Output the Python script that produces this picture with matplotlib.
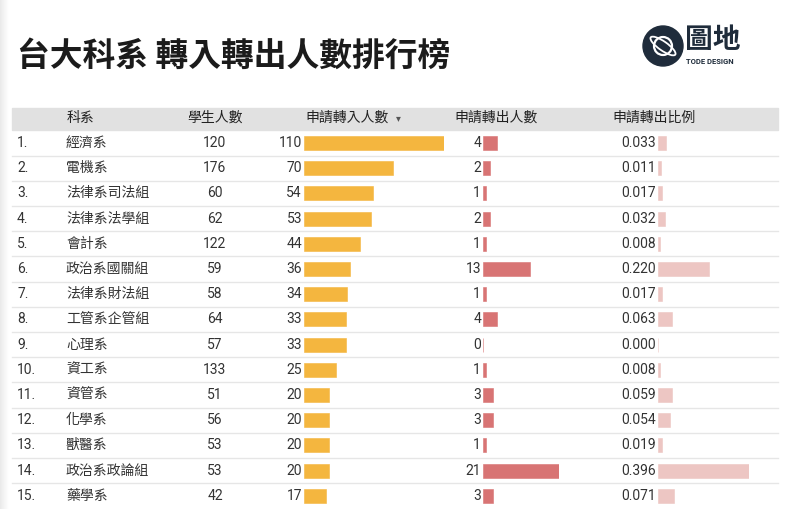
import numpy as np
import matplotlib.pyplot as plt
from matplotlib.patches import Circle, Ellipse, Rectangle

plt.rcParams['font.family'] = ['Roboto', 'Noto Sans CJK TC', 'DejaVu Sans']

# table data
departments = ['經濟系', '電機系', '法律系司法組', '法律系法學組', '會計系',
               '政治系國關組', '法律系財法組', '工管系企管組', '心理系', '資工系',
               '資管系', '化學系', '獸醫系', '政治系政論組', '藥學系']
students = [120, 176, 60, 62, 122, 59, 58, 64, 57, 133, 51, 56, 53, 53, 42]
transfer_in = [110, 70, 54, 53, 44, 36, 34, 33, 33, 25, 20, 20, 20, 20, 17]
transfer_out = [4, 2, 1, 2, 1, 13, 1, 4, 0, 1, 3, 3, 1, 21, 3]
out_ratio = [0.033, 0.011, 0.017, 0.032, 0.008, 0.220, 0.017, 0.063, 0.000,
             0.008, 0.059, 0.054, 0.019, 0.396, 0.071]
headers = ['科系', '學生人數', '申請轉入人數', '申請轉出人數', '申請轉出比例']
title = '台大科系 轉入轉出人數排行榜'

W, H = 800, 509
ROW0, PITCH = 143, 25.2          # centre of row 1 and row spacing (px)
row_top = 1 - ROW0 / PITCH
row_bottom = 1 + (H - ROW0) / PITCH
rows = np.arange(1, len(departments) + 1)

TEXT = '#333333'
ORANGE, RED, PINK = '#F4B63F', '#D87474', '#EDC6C3'

fig = plt.figure(figsize=(W / 100, H / 100), dpi=100)
fig.patch.set_facecolor('white')

# pixel-space axes for title, logo and header band
base = fig.add_axes([0, 0, 1, 1])
base.set_xlim(0, W)
base.set_ylim(H, 0)
base.axis('off')

# faint shadow at the left edge
shade = np.linspace(1, 0, 50)[None, :]
base.imshow(shade, extent=[0, 9, H, 0], cmap='Greys', vmin=0, vmax=6,
            aspect='auto', zorder=0)

base.text(17, 56, title, fontsize=23.6, fontweight='bold', color='#1b1b1b',
          va='center', ha='left', family=['Noto Sans CJK TC'])

# logo
navy = '#1f2c3b'
base.add_patch(Circle((663, 46), 20, color=navy))
base.add_patch(Circle((663, 46), 9, fill=False, ec='white', lw=1.6))
base.add_patch(Ellipse((663, 46), 30, 9, angle=35, fill=False, ec='white', lw=1.3))
base.text(685, 40, '圖地', fontsize=20, fontweight='bold', color=navy,
          va='center', ha='left', family=['Noto Sans CJK TC'])
base.text(686, 61, 'TODE DESIGN', fontsize=5.5, color=navy, fontweight='bold',
          va='center', ha='left')

# header band
base.add_patch(Rectangle((12, 108), 766, 22, color='#e1e1e1', zorder=1))

# table axes: x in px, y in rows
tab = fig.add_axes([0, 0, 1, 1])
tab.set_xlim(0, W)
tab.set_ylim(row_bottom, row_top)
tab.axis('off')
tab.patch.set_alpha(0)

hx = [67, 215, 347, 496, 654]
ha = ['left', 'center', 'center', 'center', 'center']
for x, lab, a in zip(hx, headers, ha):
    tab.text(x, 0, lab, fontsize=10, color='#222222', ha=a, va='center')
tab.text(398, 0, '▾', fontsize=7, color='#555555', ha='center', va='center',
         family=['DejaVu Sans'])

for r in rows[:-1]:
    tab.plot([12, 778], [r + 0.5, r + 0.5], color='#e6e6e6', lw=1)

for r, name, s, ti, to, ra in zip(rows, departments, students, transfer_in,
                                   transfer_out, out_ratio):
    tab.text(17, r, f'{r}.', fontsize=10, color=TEXT, ha='left', va='center')
    tab.text(66, r, name, fontsize=10, color=TEXT, ha='left', va='center')
    tab.text(215, r, str(s), fontsize=10, color=TEXT, ha='center', va='center')
    tab.text(302, r, str(ti), fontsize=10, color=TEXT, ha='right', va='center')
    tab.text(481, r, str(to), fontsize=10, color=TEXT, ha='right', va='center')
    tab.text(656, r, f'{ra:.3f}', fontsize=10, color=TEXT, ha='right', va='center')


def bar_column(x0, width, values, color):
    ax = fig.add_axes([x0 / W, 0, width / W, 1])
    ax.barh(rows, values, height=0.56, color=color, edgecolor=color, linewidth=0.4)
    ax.set_xlim(0, max(values))
    ax.set_ylim(row_bottom, row_top)
    ax.axis('off')
    ax.patch.set_alpha(0)
    return ax


bar_column(304, 140, transfer_in, ORANGE)
bar_column(482.5, 76, transfer_out, RED)
bar_column(658, 91, out_ratio, PINK)

fig.savefig('out.png', dpi=100, facecolor='white')
